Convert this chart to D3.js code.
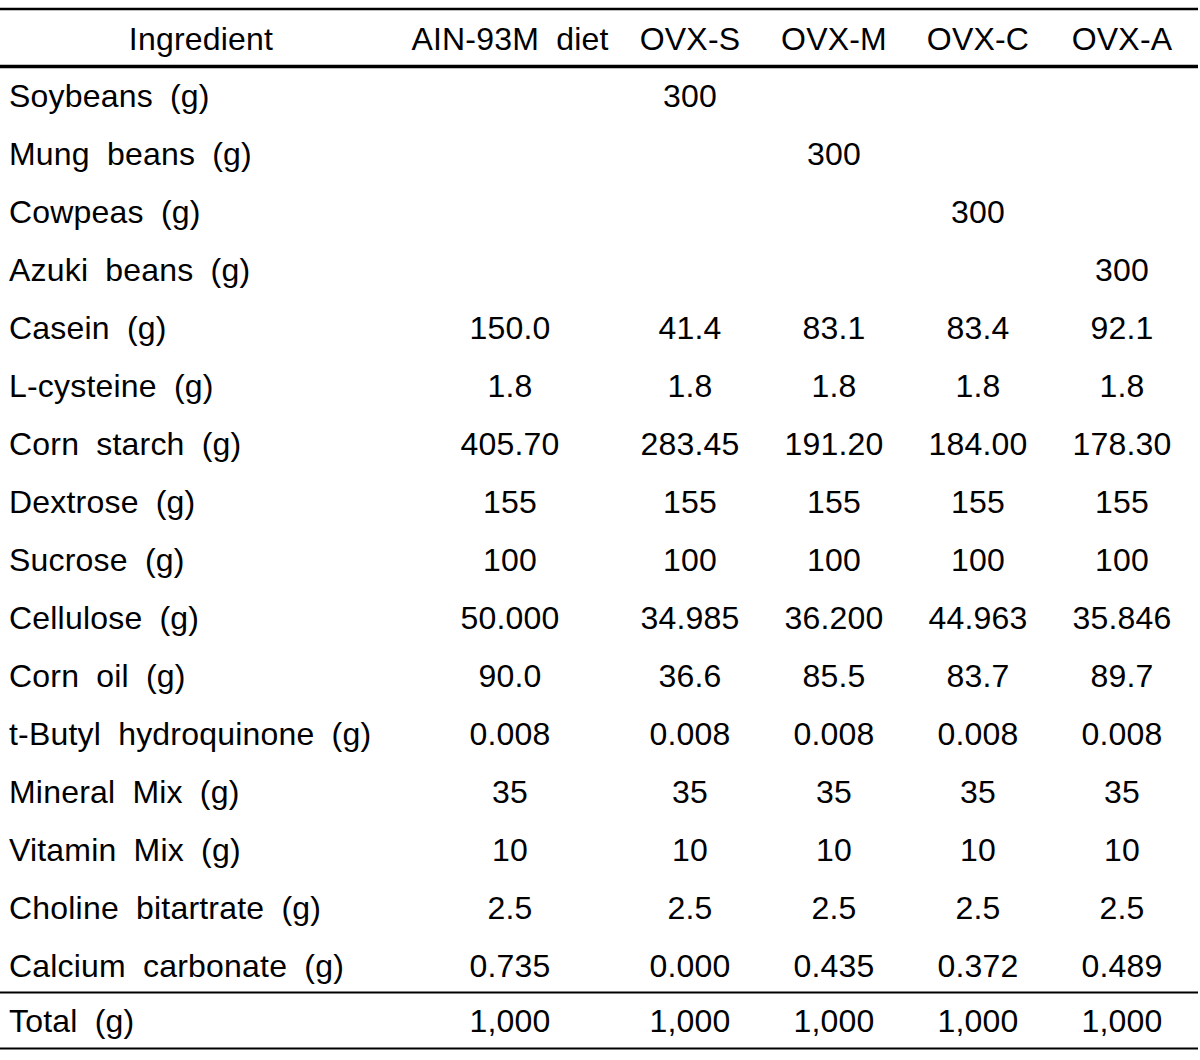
<!DOCTYPE html>
<html>
<head>
<meta charset="utf-8">
<script src="https://cdn.jsdelivr.net/npm/d3@7"></script>
<style>
  html, body { margin: 0; padding: 0; background: #fff; }
  svg text { font-family: "Liberation Sans", Arial, sans-serif; font-size: 32px; fill: #000; letter-spacing: 0.2px; word-spacing: 8px; }
</style>
</head>
<body>
<svg id="chart" width="1200" height="1060"></svg>
<script>
const headerLabel = "Ingredient";
const columns = ["AIN-93M diet", "OVX-S", "OVX-M", "OVX-C", "OVX-A"];
const ingredients = [
  "Soybeans (g)", "Mung beans (g)", "Cowpeas (g)", "Azuki beans (g)",
  "Casein (g)", "L-cysteine (g)", "Corn starch (g)", "Dextrose (g)",
  "Sucrose (g)", "Cellulose (g)", "Corn oil (g)", "t-Butyl hydroquinone (g)",
  "Mineral Mix (g)", "Vitamin Mix (g)", "Choline bitartrate (g)", "Calcium carbonate (g)"
];
const ain93m = ["", "", "", "", "150.0", "1.8", "405.70", "155", "100", "50.000", "90.0", "0.008", "35", "10", "2.5", "0.735"];
const ovxS   = ["300", "", "", "", "41.4", "1.8", "283.45", "155", "100", "34.985", "36.6", "0.008", "35", "10", "2.5", "0.000"];
const ovxM   = ["", "300", "", "", "83.1", "1.8", "191.20", "155", "100", "36.200", "85.5", "0.008", "35", "10", "2.5", "0.435"];
const ovxC   = ["", "", "300", "", "83.4", "1.8", "184.00", "155", "100", "44.963", "83.7", "0.008", "35", "10", "2.5", "0.372"];
const ovxA   = ["", "", "", "300", "92.1", "1.8", "178.30", "155", "100", "35.846", "89.7", "0.008", "35", "10", "2.5", "0.489"];
const totalLabel = "Total (g)";
const totalValues = ["1,000", "1,000", "1,000", "1,000", "1,000"];

const series = [ain93m, ovxS, ovxM, ovxC, ovxA];

const svg = d3.select("#chart");

// column centres (layout)
const x = d3.scaleOrdinal().domain(columns).range([510, 690, 834, 978, 1122]);
// row baselines
const y = d3.scalePoint().domain(ingredients).range([107, 977]);

const headerBaseline = 50;
const totalBaseline = 1032;

// rules
const rules = [
  { y: 9, w: 2.5 },
  { y: 66.5, w: 3.5 },
  { y: 992.5, w: 2 },
  { y: 1048.5, w: 2 }
];
svg.selectAll("line.rule").data(rules).join("line")
  .attr("class", "rule")
  .attr("x1", 0).attr("x2", 1198)
  .attr("y1", d => d.y).attr("y2", d => d.y)
  .attr("stroke", "#000").attr("stroke-width", d => d.w);

// header
svg.append("text").attr("x", 201).attr("y", headerBaseline)
  .attr("text-anchor", "middle").text(headerLabel);
svg.selectAll("text.colhead").data(columns).join("text")
  .attr("class", "colhead")
  .attr("x", d => x(d)).attr("y", headerBaseline)
  .attr("text-anchor", "middle").text(d => d);

// row labels
svg.selectAll("text.rowlab").data(ingredients).join("text")
  .attr("class", "rowlab")
  .attr("x", 9).attr("y", d => y(d))
  .text(d => d);

// cells
const cells = [];
series.forEach((vals, ci) => {
  vals.forEach((v, ri) => {
    if (v !== "") cells.push({ col: columns[ci], row: ingredients[ri], v });
  });
});
svg.selectAll("text.cell").data(cells).join("text")
  .attr("class", "cell")
  .attr("x", d => x(d.col)).attr("y", d => y(d.row))
  .attr("text-anchor", "middle").text(d => d.v);

// total row
svg.append("text").attr("x", 9).attr("y", totalBaseline).text(totalLabel);
svg.selectAll("text.total").data(totalValues).join("text")
  .attr("class", "total")
  .attr("x", (d, i) => x(columns[i])).attr("y", totalBaseline)
  .attr("text-anchor", "middle").text(d => d);
</script>
</body>
</html>
